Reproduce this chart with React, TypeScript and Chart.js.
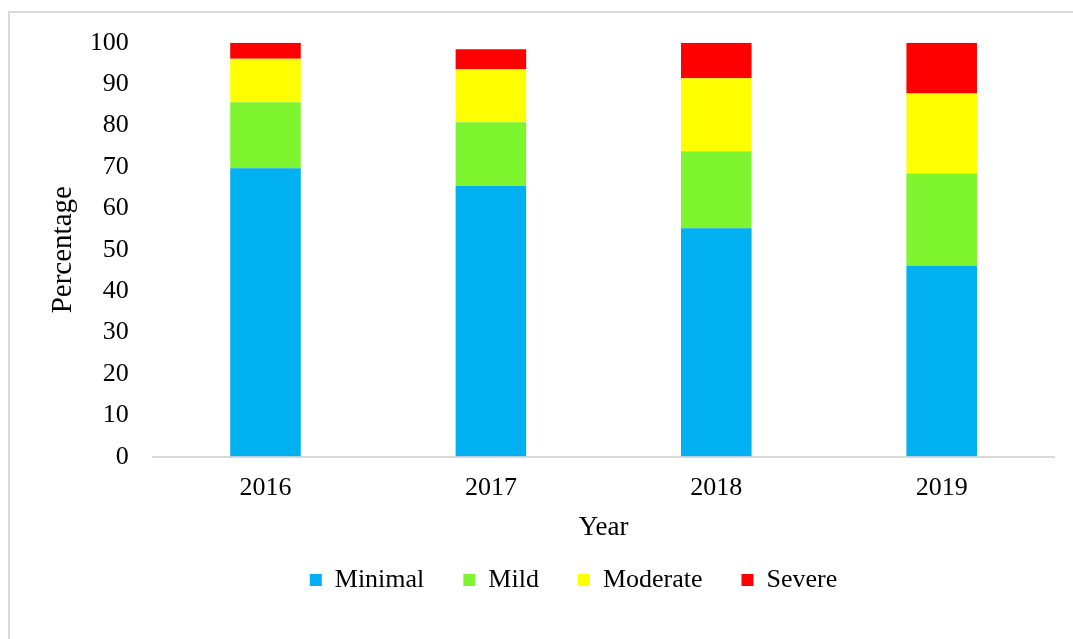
import React, { useEffect, useRef } from "react";
import { Chart, registerables } from "chart.js";

Chart.register(...registerables);

const years = ["2016", "2017", "2018", "2019"];
const minimal = [69.7, 65.4, 55.2, 46.1];
const mild = [15.9, 15.4, 18.6, 22.3];
const moderate = [10.5, 12.8, 17.6, 19.3];
const severe = [3.9, 4.8, 8.6, 12.3];
const yTickMin = 0;
const yTickMax = 100;
const yTickStep = 10;

const FONT = "'Liberation Serif', 'Times New Roman', serif";

export default function App() {
  const ref = useRef<HTMLCanvasElement | null>(null);

  useEffect(() => {
    if (!ref.current) return;
    const chart = new Chart(ref.current, {
      type: "bar",
      data: {
        labels: years,
        datasets: [
          { label: "Minimal", data: minimal, backgroundColor: "#00b0f0", borderWidth: 0 },
          { label: "Mild", data: mild, backgroundColor: "#7ff52f", borderWidth: 0 },
          { label: "Moderate", data: moderate, backgroundColor: "#ffff00", borderWidth: 0 },
          { label: "Severe", data: severe, backgroundColor: "#ff0000", borderWidth: 0 },
        ],
      },
      options: {
        responsive: false,
        animation: false,
        devicePixelRatio: 1,
        layout: { padding: { left: 82.6, right: 18.6, top: 29.7, bottom: 36 } },
        datasets: { bar: { barPercentage: 0.313, categoryPercentage: 1 } },
        plugins: {
          tooltip: { enabled: false },
          legend: {
            position: "bottom",
            labels: {
              boxWidth: 12,
              boxHeight: 12,
              padding: 39,
              color: "#000",
              font: { family: FONT, size: 26 },
            },
          },
        },
        scales: {
          x: {
            stacked: true,
            grid: { display: false, drawTicks: false },
            border: { display: true, color: "#d9d9d9", width: 2 },
            ticks: { color: "#000", padding: 15.7, font: { family: FONT, size: 26 } },
            title: {
              display: true,
              text: "Year",
              color: "#000",
              font: { family: FONT, size: 27 },
              padding: { top: 0, bottom: -15.7 },
            },
            afterFit: (s: any) => {
              s.height = 71.3;
            },
          },
          y: {
            stacked: true,
            min: yTickMin,
            max: yTickMax,
            grid: {
              display: true,
              drawOnChartArea: false,
              drawTicks: true,
              tickLength: 24,
              color: "rgba(0,0,0,0)",
            },
            border: { display: false },
            ticks: { stepSize: yTickStep, color: "#000", padding: 0, font: { family: FONT, size: 26 } },
            title: {
              display: true,
              text: "Percentage",
              color: "#000",
              font: { family: FONT, size: 29 },
              padding: { top: -46.4, bottom: 0 },
            },
            afterFit: (s: any) => {
              s.width = 60.2;
            },
          },
        },
      },
    });
    return () => chart.destroy();
  }, []);

  return (
    <div
      style={{
        position: "fixed",
        left: 8,
        top: 11,
        width: 1065,
        height: 628,
        boxSizing: "border-box",
        borderTop: "2px solid #d9d9d9",
        borderLeft: "2px solid #d9d9d9",
        overflow: "hidden",
        background: "#fff",
      }}
    >
      <canvas ref={ref} width={1063} height={626} style={{ display: "block" }} />
    </div>
  );
}
